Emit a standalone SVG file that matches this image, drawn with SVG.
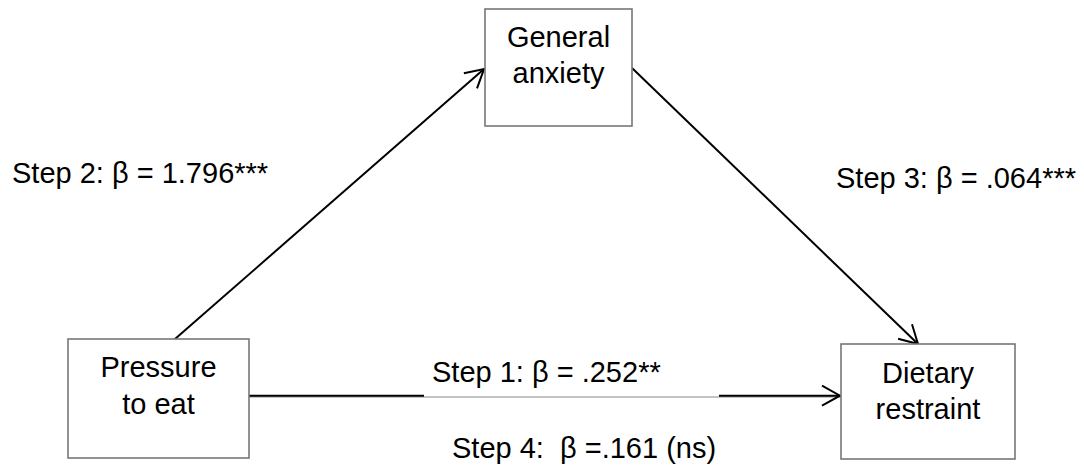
<svg xmlns="http://www.w3.org/2000/svg" width="1084" height="469" viewBox="0 0 1084 469">
<style>
.box{fill:#fff;stroke:#777;stroke-width:1.6}
.t{font-family:"Liberation Sans",Arial,sans-serif;font-size:29px;fill:#000}
.c{text-anchor:middle}
.ln{stroke:#000;stroke-width:2;fill:none}
.gl{stroke:#888;stroke-width:1.2;fill:none}
</style>
<defs>
<marker id="arr" markerUnits="userSpaceOnUse" markerWidth="22" markerHeight="24" refX="18" refY="10" orient="auto" viewBox="-2 -2 22 24">
<path d="M0,0 L18,10 L0,20" fill="none" stroke="#000" stroke-width="2"/>
</marker>
</defs>
<rect width="1084" height="469" fill="#fff"/>
<g id="connectors">
<line class="ln" x1="175" y1="339" x2="484" y2="69" marker-end="url(#arr)"/>
<line class="ln" x1="632" y1="68" x2="918" y2="344" marker-end="url(#arr)"/>
<line class="gl" x1="249" y1="397" x2="841" y2="397"/>
<line class="ln" x1="249" y1="395.7" x2="424" y2="395.7"/>
<line class="ln" x1="719" y1="395.7" x2="840" y2="395.7" marker-end="url(#arr)"/>
</g>
<g id="general-anxiety">
<rect class="box" x="485" y="9" width="147" height="117"/>
<text class="t c" x="558.5" y="47">General</text>
<text class="t c" x="558.5" y="83">anxiety</text>
</g>
<g id="pressure-to-eat">
<rect class="box" x="68" y="339" width="181" height="119"/>
<text class="t c" x="158.5" y="377">Pressure</text>
<text class="t c" x="158.5" y="414">to eat</text>
</g>
<g id="dietary-restraint">
<rect class="box" x="841" y="344" width="174" height="115"/>
<text class="t c" x="928" y="383">Dietary</text>
<text class="t c" x="928" y="419">restraint</text>
</g>
<g id="labels">
<text class="t" x="12" y="183">Step 2: β = 1.796***</text>
<text class="t" x="836" y="188">Step 3: β = .064***</text>
<text class="t" x="432" y="382">Step 1: β = .252**</text>
<text class="t" x="452" y="458" xml:space="preserve">Step 4:  β =.161 (ns)</text>
</g>
</svg>
